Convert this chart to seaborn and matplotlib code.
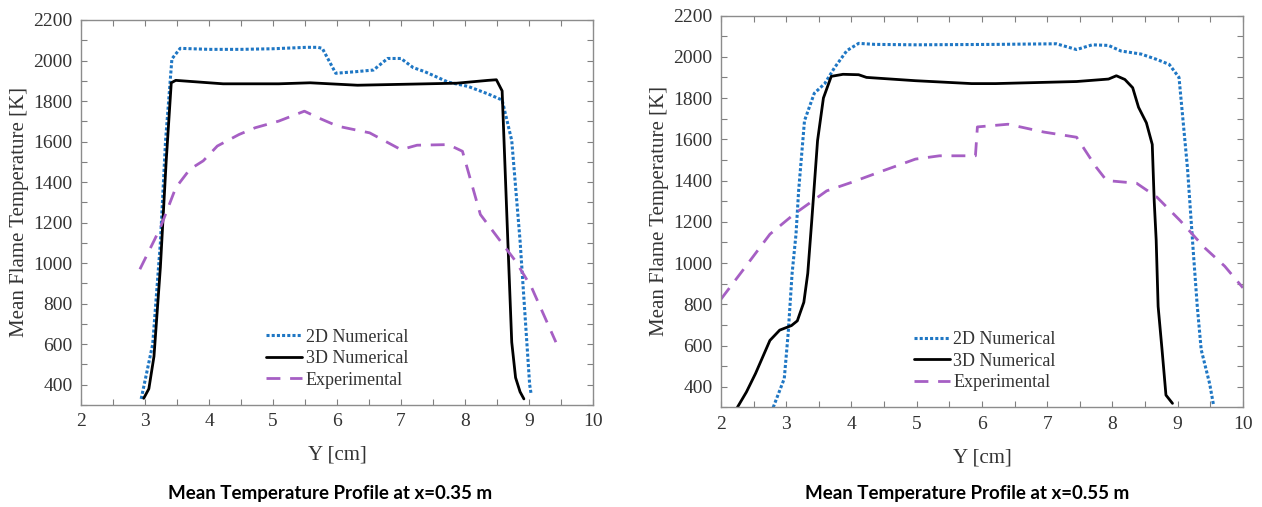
import matplotlib
matplotlib.use("Agg")
import matplotlib.pyplot as plt
from matplotlib.ticker import MultipleLocator
import seaborn as sns

# --- x = 0.35 m ---
y2d_a = [2.94, 3.12, 3.24, 3.32, 3.42, 3.55, 4.0, 4.5, 5.0, 5.52, 5.7, 5.77, 5.98, 6.3, 6.57, 6.79,
         7.0, 7.19, 7.37, 7.74, 8.05, 8.36, 8.58, 8.73, 8.86, 9.01, 9.03]
t2d_a = [330, 600, 1100, 1600, 2008, 2060, 2055, 2055, 2058, 2065, 2065, 2060, 1937, 1945, 1953, 2010,
         2010, 1965, 1945, 1893, 1872, 1835, 1805, 1605, 1111, 400, 360]

y3d_a = [2.98, 3.06, 3.14, 3.24, 3.33, 3.41, 3.48, 4.22, 5.09, 5.58, 6.32, 6.94, 7.87, 8.36, 8.49,
         8.58, 8.67, 8.73, 8.79, 8.86, 8.92]
t3d_a = [333, 380, 540, 980, 1500, 1890, 1902, 1885, 1885, 1890, 1878, 1882, 1888, 1902, 1905,
         1850, 1100, 610, 435, 365, 330]

yex_a = [2.92, 3.14, 3.24, 3.48, 3.70, 3.91, 4.13, 4.47, 4.72, 5.09, 5.49, 5.71, 6.01, 6.51, 7.0,
         7.25, 7.74, 7.96, 8.24, 8.55, 8.79, 9.04, 9.42]
tex_a = [970, 1110, 1175, 1372, 1463, 1505, 1578, 1635, 1668, 1701, 1750, 1717, 1676, 1643, 1560,
         1582, 1585, 1552, 1240, 1110, 1010, 880, 610]

# --- x = 0.55 m ---
y2d_b = [2.80, 2.97, 3.03, 3.09, 3.15, 3.19, 3.28, 3.43, 3.59, 3.74, 3.93, 4.11, 4.36, 4.98, 6.21,
         7.14, 7.45, 7.69, 7.94, 8.13, 8.44, 8.68, 8.87, 9.02, 9.15, 9.24, 9.30, 9.36, 9.49, 9.55]
t2d_b = [300, 440, 660, 950, 1140, 1350, 1690, 1823, 1870, 1947, 2030, 2065, 2060, 2058, 2060,
         2063, 2035, 2058, 2055, 2028, 2013, 1987, 1963, 1900, 1460, 1050, 790, 580, 415, 310]

y3d_b = [2.25, 2.39, 2.53, 2.75, 2.90, 3.08, 3.17, 3.27, 3.33, 3.39, 3.48, 3.57, 3.69, 3.87, 4.11,
         4.23, 4.98, 5.84, 6.21, 6.83, 7.45, 7.94, 8.06, 8.19, 8.31, 8.40, 8.52, 8.61, 8.64, 8.67,
         8.70, 8.76, 8.82, 8.92]
t3d_b = [300, 375, 465, 625, 675, 697, 720, 810, 950, 1200, 1593, 1800, 1905, 1915, 1913,
         1900, 1884, 1870, 1870, 1875, 1880, 1892, 1908, 1890, 1850, 1755, 1680, 1575, 1300, 1113,
         790, 580, 360, 320]

yex_b = [2.0, 2.33, 2.75, 3.12, 3.62, 3.99, 4.48, 4.98, 5.35, 5.9, 5.93, 6.4, 6.95, 7.45, 7.75,
         7.91, 8.37, 8.68, 9.04, 9.41, 9.72, 10.0]
tex_b = [825, 963, 1140, 1237, 1350, 1390, 1447, 1504, 1520, 1520, 1660, 1673, 1635, 1610, 1465,
         1400, 1387, 1320, 1205, 1075, 985, 880]

labels = ["2D Numerical", "3D Numerical", "Experimental"]
titles = ["Mean Temperature Profile at x=0.35 m", "Mean Temperature Profile at x=0.55 m"]

blue = "#1f77c4"
purple = "#a65fc4"
serif = ["Liberation Serif", "DejaVu Serif"]

sns.set_theme(style="ticks")
plt.rcParams["font.family"] = serif

fig = plt.figure(figsize=(12.62, 5.07), dpi=100)
ax1 = fig.add_axes([0.0642, 0.2012, 0.4057, 0.7594])
ax2 = fig.add_axes([0.5713, 0.1963, 0.4136, 0.7731])

panels = [
    (ax1, (y2d_a, t2d_a), (y3d_a, t3d_a), (yex_a, tex_a), (0.50, 0.12)),
    (ax2, (y2d_b, t2d_b), (y3d_b, t3d_b), (yex_b, tex_b), (0.505, 0.118)),
]

for ax, d2, d3, ex, leg_pos in panels:
    sns.lineplot(x=d2[0], y=d2[1], ax=ax, color=blue, linestyle=(0, (1, 0.7)),
                 linewidth=2.2, sort=False, estimator=None, label=labels[0])
    sns.lineplot(x=d3[0], y=d3[1], ax=ax, color="black", linestyle="-",
                 linewidth=2.0, sort=False, estimator=None, label=labels[1])
    sns.lineplot(x=ex[0], y=ex[1], ax=ax, color=purple, linestyle=(0, (5, 3.5)),
                 linewidth=2.0, sort=False, estimator=None, label=labels[2])

    ax.set_xlim(2, 10)
    ax.set_ylim(300, 2200)
    ax.xaxis.set_major_locator(MultipleLocator(1))
    ax.xaxis.set_minor_locator(MultipleLocator(0.5))
    ax.yaxis.set_minor_locator(MultipleLocator(100))
    ax.set_yticks(range(400, 2201, 200))
    ax.tick_params(which="both", direction="in", top=True, right=True,
                   length=4, width=0.8, color="#808080", labelsize=14,
                   labelcolor="#333333", pad=6)
    plt.setp(ax.get_xticklabels() + ax.get_yticklabels(), family=serif)
    for sp in ax.spines.values():
        sp.set_color("#8c8c8c")
        sp.set_linewidth(1.0)
    ax.set_xlabel("Y [cm]", fontsize=15, color="#333333", labelpad=11)
    ax.set_ylabel("Mean Flame Temperature [K]", fontsize=15, color="#333333", labelpad=3)
    ax.legend(loc="center", bbox_to_anchor=leg_pos, frameon=False, fontsize=13,
              handlelength=2.0, handletextpad=0.2, labelspacing=0.25, borderpad=0,
              labelcolor="#333333")

fig.text(0.2615, 0.027, titles[0], ha="center", va="center", fontsize=13.5,
         fontweight="bold", family=["Lato", "DejaVu Sans"], color="black")
fig.text(0.7662, 0.027, titles[1], ha="center", va="center", fontsize=13.5,
         fontweight="bold", family=["Lato", "DejaVu Sans"], color="black")

fig.savefig("out.png", dpi=100)
